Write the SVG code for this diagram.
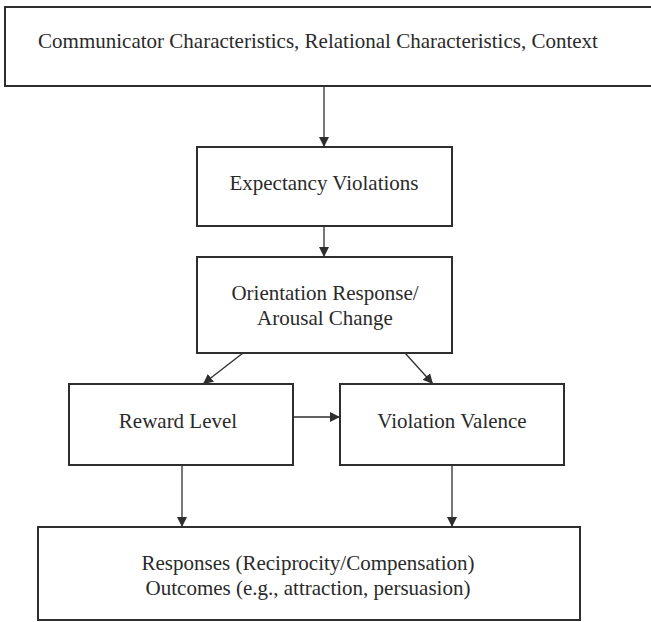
<svg xmlns="http://www.w3.org/2000/svg" width="651" height="622" viewBox="0 0 651 622">
<style>
.box{fill:#fff;stroke:#2e2e2e;stroke-width:2}
.t{font-family:"Liberation Serif","Times New Roman",serif;font-size:21px;fill:#2a2a2a;text-anchor:middle}
.c{stroke:#2e2e2e;stroke-width:1.3;fill:none;marker-end:url(#ah)}
</style>
<defs>
<marker id="ah" viewBox="0 0 10 10" refX="10" refY="5" markerWidth="10" markerHeight="10" markerUnits="userSpaceOnUse" orient="auto">
<path d="M0,0 L10,5 L0,10 Z" fill="#2e2e2e"/>
</marker>
</defs>
<rect width="651" height="622" fill="#fff"/>
<g id="connectors">
<line class="c" x1="324" y1="86" x2="324" y2="147"/>
<line class="c" x1="324" y1="226" x2="324" y2="257"/>
<line class="c" x1="243" y1="353" x2="203" y2="384"/>
<line class="c" x1="405" y1="353" x2="433" y2="384"/>
<line class="c" x1="293" y1="417" x2="340" y2="417"/>
<line class="c" x1="182" y1="465" x2="182" y2="527"/>
<line class="c" x1="452" y1="465" x2="452" y2="527"/>
</g>
<g id="context">
<rect class="box" x="5" y="7" width="650" height="79"/>
<text class="t" x="318" y="48">Communicator Characteristics, Relational Characteristics, Context</text>
</g>
<g id="expectancy">
<rect class="box" x="197" y="147" width="255" height="79"/>
<text class="t" x="324" y="190">Expectancy Violations</text>
</g>
<g id="orientation">
<rect class="box" x="197" y="257" width="255" height="96"/>
<text class="t" x="325" y="300">Orientation Response/</text>
<text class="t" x="325" y="325">Arousal Change</text>
</g>
<g id="reward">
<rect class="box" x="69" y="384" width="224" height="81"/>
<text class="t" x="178" y="428">Reward Level</text>
</g>
<g id="valence">
<rect class="box" x="340" y="384" width="224" height="81"/>
<text class="t" x="452" y="428">Violation Valence</text>
</g>
<g id="outcomes">
<rect class="box" x="38" y="527" width="542" height="93"/>
<text class="t" x="308" y="570">Responses (Reciprocity/Compensation)</text>
<text class="t" x="308" y="595">Outcomes (e.g., attraction, persuasion)</text>
</g>
</svg>
